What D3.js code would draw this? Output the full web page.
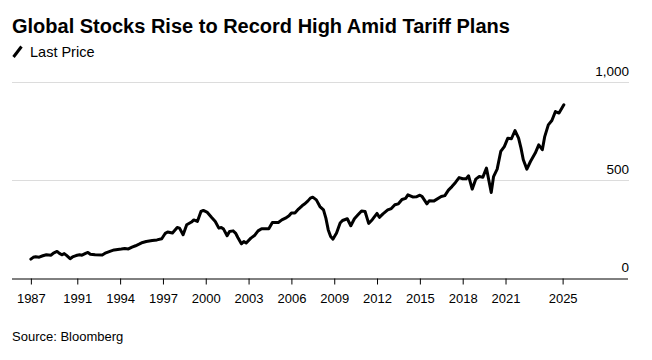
<!DOCTYPE html>
<html><head><meta charset="utf-8">
<script src="https://cdn.jsdelivr.net/npm/d3@7"></script>
<style>
html,body{margin:0;padding:0;background:#fff;}
svg{display:block;font-family:"Liberation Sans",Arial,sans-serif;}
</style></head>
<body><svg id="c" width="652" height="360"></svg>
<script>
const dates = ["1987-10","1987-12","1988-02","1988-05","1988-08","1988-11","1989-03","1989-05","1989-08","1989-10","1989-12","1990-02","1990-04","1990-07","1990-09","1990-12","1991-03","1991-05","1991-08","1991-10","1991-12","1992-04","1992-10","1993-01","1993-05","1993-08","1993-11","1994-02","1994-05","1994-08","1994-11","1995-02","1995-05","1995-08","1995-11","1996-04","1996-08","1996-12","1997-02","1997-03","1997-05","1997-09","1998-01","1998-03","1998-06","1998-09","1999-01","1999-03","1999-06","1999-09","1999-11","2000-02","2000-06","2000-09","2000-12","2001-02","2001-04","2001-07","2001-09","2001-12","2002-02","2002-04","2002-07","2002-09","2002-11","2003-03","2003-06","2003-09","2003-12","2004-06","2004-09","2005-02","2005-05","2005-08","2005-11","2006-01","2006-04","2006-07","2006-10","2006-12","2007-03","2007-05","2007-07","2007-10","2008-01","2008-04","2008-06","2008-08","2008-10","2008-12","2009-03","2009-06","2009-08","2009-12","2010-03","2010-06","2010-09","2010-12","2011-03","2011-06","2011-09","2012-01","2012-03","2012-06","2012-10","2013-01","2013-04","2013-07","2013-10","2014-01","2014-03","2014-07","2014-10","2015-01","2015-03","2015-07","2015-09","2016-01","2016-07","2016-10","2017-01","2017-04","2017-07","2017-10","2018-01","2018-04","2018-06","2018-09","2018-12","2019-03","2019-06","2019-09","2020-01","2020-03","2020-06","2020-09","2020-12","2021-03","2021-06","2021-09","2021-12","2022-02","2022-04","2022-07","2022-10","2023-02","2023-05","2023-08","2023-10","2024-01","2024-04","2024-07","2024-10","2025-02"];
const lastPrice = [99,108,111,109,116,121,119,130,138,128,121,127,118,101,110,117,121,119,128,133,124,121,120,131,140,146,148,150,153,151,160,167,175,184,189,194,197,203,222,230,237,232,260,257,223,274,288,299,291,342,347,339,311,291,257,260,252,218,240,243,232,209,177,189,181,206,219,243,254,254,286,286,299,308,320,334,334,354,371,380,396,410,415,401,367,350,308,248,214,201,232,283,296,305,269,305,325,344,342,281,300,332,312,330,350,357,376,381,403,409,427,416,417,425,418,381,397,396,418,423,451,469,490,515,509,509,524,456,507,520,517,563,439,520,558,648,673,716,713,755,716,665,606,558,597,640,682,657,724,784,806,852,844,886];
const xTickDates = ["1987-10","1991-01","1994-01","1997-01","2000-01","2003-01","2006-01","2009-01","2012-01","2015-01","2018-01","2021-01","2025-01"];
const xTickLabels = ["1987","1991","1994","1997","2000","2003","2006","2009","2012","2015","2018","2021","2025"];
const yTicks = [0,500,1000];
const title = "Global Stocks Rise to Record High Amid Tariff Plans";
const legendLabel = "Last Price";
const source = "Source: Bloomberg";

const parse = d3.timeParse("%Y-%m");
const data = dates.map((d,i)=>({date:parse(d), value:lastPrice[i]}));

const svg = d3.select("#c");
const x = d3.scaleTime().domain([new Date(1986,6,1), new Date(2029,7,1)]).range([13,628]);
const y = d3.scaleLinear().domain([0,1000]).range([278.5,82.5]);

// title
svg.append("text").attr("x",12).attr("y",33).attr("font-size",20).attr("font-weight","bold")
  .attr("fill","#000").attr("letter-spacing","0").text(title);
// legend
svg.append("line").attr("x1",13.5).attr("y1",57).attr("x2",21.5).attr("y2",46.5)
  .attr("stroke","#000").attr("stroke-width",3);
svg.append("text").attr("x",30).attr("y",57).attr("font-size",14.5).attr("fill","#000").text(legendLabel);

// gridlines
svg.append("g").selectAll("line").data(yTicks.filter(v=>v>0)).join("line")
  .attr("x1",12).attr("x2",629).attr("y1",d=>y(d)).attr("y2",d=>y(d))
  .attr("stroke","#dcdcdc").attr("stroke-width",1);
// y labels
svg.append("g").selectAll("text").data(yTicks).join("text")
  .attr("x",629).attr("y",d=>y(d)-7).attr("text-anchor","end").attr("font-size",13.5).attr("fill","#000")
  .text(d=>d3.format(",")(d));

// x axis
const xAxis = d3.axisBottom(x).tickValues(xTickDates.map(parse)).tickSize(6)
  .tickFormat((d,i)=>xTickLabels[i]);
const gx = svg.append("g").attr("transform",`translate(0,${y(0)})`).call(xAxis);
gx.select(".domain").attr("stroke","#000").attr("d",`M12,0.5H628`);
gx.selectAll(".tick line").attr("stroke","#000");
gx.selectAll(".tick text").attr("font-size",13).attr("fill","#000").attr("dy",0).attr("y",24)
  .attr("font-family","Liberation Sans, Arial, sans-serif");

// line
svg.append("path").datum(data).attr("fill","none").attr("stroke","#000").attr("stroke-width",3)
  .attr("stroke-linejoin","round").attr("stroke-linecap","round")
  .attr("d", d3.line().x(d=>x(d.date)).y(d=>y(d.value)));

// source
svg.append("text").attr("x",12).attr("y",341).attr("font-size",13).attr("fill","#000").text(source);
</script></body></html>
